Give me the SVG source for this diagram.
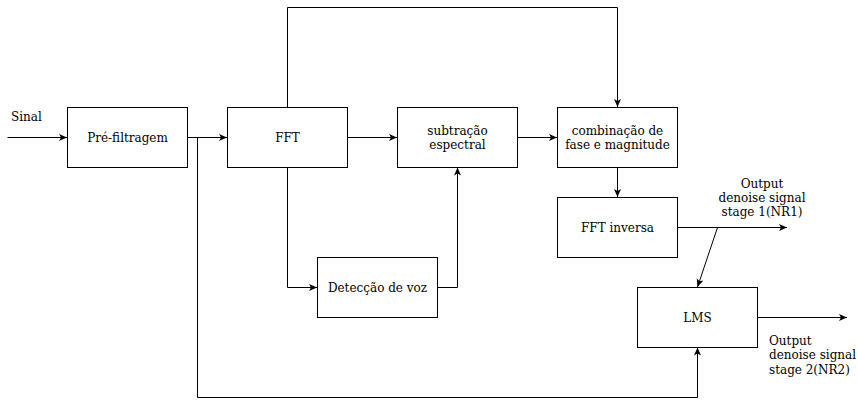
<svg xmlns="http://www.w3.org/2000/svg" width="858" height="406" viewBox="0 0 858 406">
<defs>
<style>
.box{fill:#fff;stroke:#000;stroke-width:1}
.t{font-family:'DejaVu Serif','Liberation Serif',serif;font-size:12px;fill:#000;text-anchor:middle}
.tl{font-family:'DejaVu Serif','Liberation Serif',serif;font-size:12px;fill:#000}
.c{fill:none;stroke:#000;stroke-width:1}
</style>
<marker id="a" viewBox="0 0 8 8" markerWidth="8" markerHeight="8" refX="8" refY="4" orient="auto" markerUnits="userSpaceOnUse">
<path d="M0,0.5 L8,4 L0,7.5 L2,4 Z" fill="#000"/>
</marker>
</defs>
<rect width="858" height="406" fill="#fff"/>
<g id="connectors">
<path class="c" d="M7.5,137.5 H67" marker-end="url(#a)"/>
<path class="c" d="M187.5,137.5 H227" marker-end="url(#a)"/>
<path class="c" d="M197.5,137.5 V397.5 H697.5 V347.5" marker-end="url(#a)"/>
<path class="c" d="M347.5,137.5 H397" marker-end="url(#a)"/>
<path class="c" d="M287.5,107.5 V7.5 H617.5 V107" marker-end="url(#a)"/>
<path class="c" d="M287.5,167.5 V287.5 H317" marker-end="url(#a)"/>
<path class="c" d="M437.5,287.5 H457.5 V167.5" marker-end="url(#a)"/>
<path class="c" d="M517.5,137.5 H557" marker-end="url(#a)"/>
<path class="c" d="M617.5,167.5 V197" marker-end="url(#a)"/>
<path class="c" d="M677.5,227.5 H787" marker-end="url(#a)"/>
<path class="c" d="M717.5,227.5 L697.5,287" marker-end="url(#a)"/>
<path class="c" d="M757.5,317.5 H847" marker-end="url(#a)"/>
</g>
<g id="prefiltragem"><rect class="box" x="67.5" y="107.5" width="120" height="60"/><text class="t" x="127.5" y="142">Pré-filtragem</text></g>
<g id="fft"><rect class="box" x="227.5" y="107.5" width="120" height="60"/><text class="t" x="287.5" y="142">FFT</text></g>
<g id="subtracao"><rect class="box" x="397.5" y="107.5" width="120" height="60"/><text class="t" x="457.5" y="135">subtração</text><text class="t" x="457.5" y="149">espectral</text></g>
<g id="combinacao"><rect class="box" x="557.5" y="107.5" width="120" height="60"/><text class="t" x="617.5" y="135">combinação de</text><text class="t" x="617.5" y="149">fase e magnitude</text></g>
<g id="fftinversa"><rect class="box" x="557.5" y="197.5" width="120" height="60"/><text class="t" x="617.5" y="232">FFT inversa</text></g>
<g id="deteccao"><rect class="box" x="317.5" y="257.5" width="120" height="60"/><text class="t" x="377.5" y="292">Detecção de voz</text></g>
<g id="lms"><rect class="box" x="637.5" y="287.5" width="120" height="60"/><text class="t" x="697.5" y="322">LMS</text></g>
<g id="labels">
<text class="tl" x="11" y="121">Sinal</text>
<text class="t" x="762" y="188">Output</text>
<text class="t" x="762" y="202">denoise signal</text>
<text class="t" x="762" y="216">stage 1(NR1)</text>
<text class="tl" x="769" y="345">Output</text>
<text class="tl" x="769" y="359">denoise signal</text>
<text class="tl" x="769" y="374">stage 2(NR2)</text>
</g>
</svg>
